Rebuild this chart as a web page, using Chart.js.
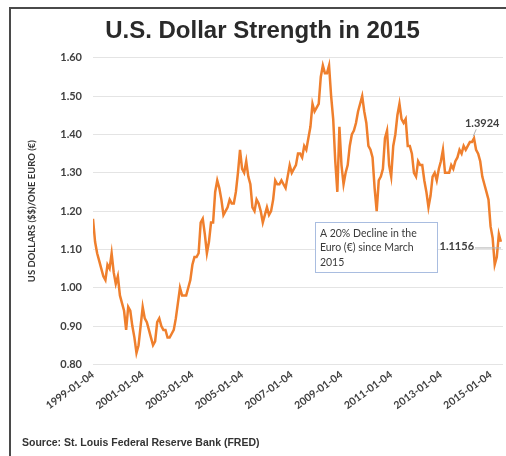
<!DOCTYPE html>
<html>
<head>
<meta charset="utf-8">
<script src="https://cdn.jsdelivr.net/npm/chart.js@4/dist/chart.umd.min.js"></script>
<style>
  html, body { margin: 0; padding: 0; background: #fff; }
  #wrap { width: 506px; height: 456px; }
</style>
</head>
<body>
<div id="wrap"><canvas id="c" width="506" height="456"></canvas></div>
<script>
// ---- DATA ----
const firstYear = 1999;            // series starts January 1999, one value per month
const monthlyRates = [
  // 1999
  1.18,1.12,1.09,1.07,1.05,1.03,1.02,1.06,1.05,1.09,1.04,1.01,
  // 2000
  1.03,0.98,0.96,0.94,0.89,0.95,0.94,0.90,0.87,0.83,0.85,0.90,
  // 2001
  0.95,0.92,0.91,0.89,0.87,0.85,0.86,0.91,0.92,0.90,0.89,0.89,
  // 2002
  0.87,0.87,0.88,0.89,0.92,0.96,1.00,0.98,0.98,0.98,1.00,1.02,
  // 2003
  1.06,1.08,1.08,1.09,1.17,1.18,1.14,1.09,1.12,1.17,1.17,1.25,
  // 2004
  1.28,1.26,1.23,1.19,1.20,1.21,1.23,1.22,1.22,1.25,1.30,1.36,
  // 2005
  1.31,1.30,1.33,1.29,1.27,1.21,1.20,1.23,1.22,1.20,1.17,1.19,
  // 2006
  1.21,1.19,1.20,1.23,1.28,1.27,1.27,1.28,1.27,1.26,1.29,1.32,
  // 2007
  1.30,1.31,1.32,1.35,1.35,1.34,1.37,1.36,1.39,1.42,1.48,1.46,
  // 2008
  1.47,1.48,1.55,1.58,1.56,1.56,1.58,1.50,1.44,1.33,1.25,1.42,
  // 2009
  1.32,1.27,1.30,1.32,1.37,1.40,1.41,1.43,1.46,1.48,1.50,1.46,
  // 2010
  1.43,1.37,1.36,1.34,1.26,1.20,1.28,1.29,1.31,1.39,1.41,1.32,
  // 2011
  1.29,1.37,1.40,1.45,1.48,1.44,1.43,1.44,1.37,1.37,1.35,1.30,
  // 2012
  1.29,1.33,1.32,1.32,1.28,1.25,1.21,1.24,1.29,1.30,1.28,1.31,
  // 2013
  1.33,1.36,1.30,1.30,1.30,1.32,1.31,1.33,1.34,1.36,1.35,1.37,
  // 2014
  1.36,1.37,1.38,1.38,1.39,1.36,1.35,1.33,1.29,1.27,1.25,1.23,
  // 2015
  1.16,1.13,1.06,1.08,1.14,1.12
];
const xTickLabels = ['1999-01-04','2001-01-04','2003-01-04','2005-01-04','2007-01-04',
                     '2009-01-04','2011-01-04','2013-01-04','2015-01-04'];
const yTicks = [0.80,0.90,1.00,1.10,1.20,1.30,1.40,1.50,1.60];
const callouts = [
  { x: 2014.3, y: 1.3924, text: '1.3924' },
  { x: 2015.42, y: 1.1156, text: '1.1156' }
];
const noteLines = ['A 20% Decline in the', 'Euro (\u20AC) since March', '2015'];
const noteBox = { x0: 2007.93, x1: 2012.84, yTop: 1.171, yBottom: 1.041 };

// ---- BUILD ----
const points = monthlyRates.map((v, i) => ({ x: firstYear + i / 12, y: v }));
const tickYears = xTickLabels.map(s => parseInt(s.slice(0, 4), 10));

const framePlugin = {
  id: 'frame',
  beforeDraw(chart) {
    const ctx = chart.ctx;
    ctx.save();
    ctx.fillStyle = '#ffffff';
    ctx.fillRect(0, 0, chart.width, chart.height);
    ctx.strokeStyle = '#4a4a4a';
    ctx.lineWidth = 2;
    ctx.beginPath();
    ctx.moveTo(10, chart.height);
    ctx.lineTo(10, 8);
    ctx.lineTo(chart.width, 8);
    ctx.stroke();
    ctx.restore();
  }
};

const annotPlugin = {
  id: 'annot',
  afterDatasetsDraw(chart) {
    const { ctx, scales: { x, y } } = chart;
    ctx.save();
    // note box
    const bx0 = x.getPixelForValue(noteBox.x0), bx1 = x.getPixelForValue(noteBox.x1);
    const by0 = y.getPixelForValue(noteBox.yTop), by1 = y.getPixelForValue(noteBox.yBottom);
    ctx.fillStyle = '#ffffff';
    ctx.fillRect(bx0, by0, bx1 - bx0, by1 - by0);
    ctx.strokeStyle = '#a9bde0';
    ctx.lineWidth = 1;
    ctx.strokeRect(Math.round(bx0) + 0.5, Math.round(by0) + 0.5, Math.round(bx1 - bx0), Math.round(by1 - by0));
    ctx.fillStyle = '#3a3a3a';
    ctx.font = '10.5px Lato';
    ctx.textBaseline = 'middle';
    ctx.textAlign = 'left';
    noteLines.forEach((t, i) => ctx.fillText(t, bx0 + 5, by0 + 11 + i * 14.5));

    // callouts
    ctx.font = 'bold 11px Lato';
    ctx.fillStyle = '#404040';
    ctx.strokeStyle = '#b0b0b0';
    ctx.lineWidth = 1;
    // first: peak label above-right of the point
    const p1x = x.getPixelForValue(callouts[0].x), p1y = y.getPixelForValue(callouts[0].y);
    ctx.beginPath();
    ctx.moveTo(p1x, p1y - 1);
    ctx.lineTo(p1x + 3, p1y - 8);
    ctx.stroke();
    ctx.textAlign = 'center';
    ctx.fillText(callouts[0].text, p1x + 9, p1y - 14);
    // second: label left of the end point
    const p2x = x.getPixelForValue(callouts[1].x), p2y = y.getPixelForValue(callouts[1].y);
    ctx.beginPath();
    ctx.moveTo(p2x - 26, p2y + 4.5);
    ctx.lineTo(p2x, p2y + 4.5);
    ctx.stroke();
    ctx.textAlign = 'right';
    ctx.fillText(callouts[1].text, p2x - 27, p2y + 3);
    ctx.restore();
  }
};

Chart.defaults.font.family = 'Lato';

new Chart(document.getElementById('c'), {
  type: 'line',
  data: {
    datasets: [{
      data: points,
      borderColor: '#ef7f2d',
      borderWidth: 2.5,
      pointRadius: 0,
      tension: 0,
      fill: false
    }]
  },
  options: {
    responsive: false,
    animation: false,
    events: [],
    layout: { padding: { left: 22, right: 3, top: 0, bottom: 5 } },
    plugins: {
      legend: { display: false },
      tooltip: { enabled: false },
      title: {
        display: true,
        text: 'U.S. Dollar Strength in 2015',
        color: '#2a2a2a',
        font: { family: 'Liberation Sans', size: 24, weight: 'bold' },
        padding: { top: 17, bottom: 12 }
      },
      subtitle: {
        display: true,
        position: 'bottom',
        align: 'start',
        text: 'Source: St. Louis Federal Reserve Bank (FRED)',
        color: '#333333',
        font: { family: 'Liberation Sans', size: 10.5, weight: 'bold' },
        padding: { top: 8, bottom: 2 }
      }
    },
    scales: {
      x: {
        type: 'linear',
        min: 1999,
        max: 2015.5,
        grid: { display: false, drawTicks: false },
        border: { display: false },
        afterBuildTicks(scale) { scale.ticks = tickYears.map(v => ({ value: v })); },
        afterFit(scale) { scale.height = 64; },
        ticks: {
          autoSkip: false,
          minRotation: 36,
          maxRotation: 36,
          padding: 4,
          color: '#404040',
          font: { size: 10.5, weight: 'bold' },
          callback: (v) => { const i = tickYears.indexOf(v); return i >= 0 ? xTickLabels[i] : ''; }
        }
      },
      y: {
        min: 0.8,
        max: 1.6,
        afterBuildTicks(scale) { scale.ticks = yTicks.map(v => ({ value: v })); },
        afterFit(scale) { scale.width = 71; },
        grid: { color: '#e4e4e4', lineWidth: 1, drawTicks: false },
        border: { display: false },
        ticks: {
          padding: 11,
          color: '#404040',
          font: { size: 11, weight: 'bold' },
          callback: (v) => Number(v).toFixed(2)
        },
        title: {
          display: true,
          text: 'US DOLLARS ($$)/ONE EURO (\u20AC)',
          color: '#333333',
          font: { size: 9.5, weight: 'bold' },
          padding: { top: 4, bottom: 0 }
        }
      }
    }
  },
  plugins: [framePlugin, annotPlugin]
});
</script>
</body>
</html>
